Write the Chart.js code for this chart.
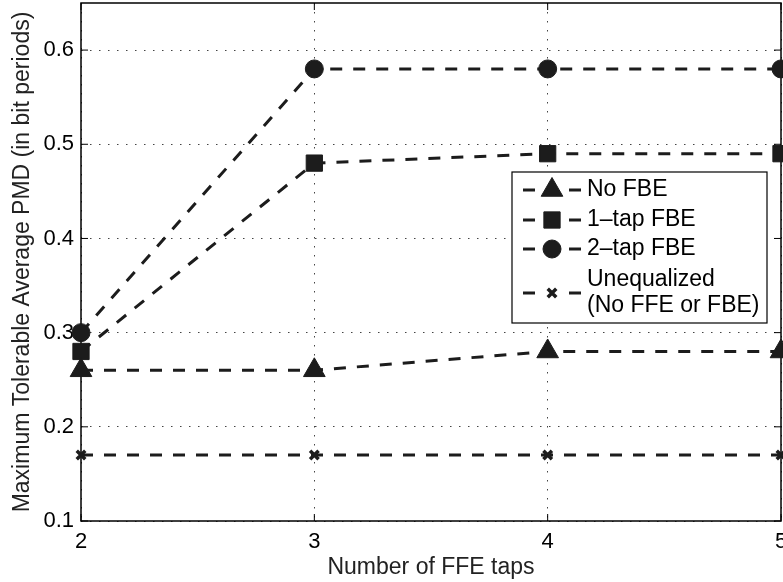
<!DOCTYPE html>
<html lang="en">
<head>
  <meta charset="UTF-8" />
  <title>Maximum Tolerable Average PMD vs FFE taps</title>
  <script src="https://cdn.jsdelivr.net/npm/chart.js@4"></script>
  <style>
    html, body { margin: 0; padding: 0; background: #fff; }
    #wrap { width: 783px; height: 582px; }
  </style>
</head>
<body>
  <div id="wrap">
    <canvas id="chartPmd" width="783" height="582"></canvas>
  </div>

  <script>
    // data
    const ffeTaps = [2, 3, 4, 5];
    const noFbe = [0.26, 0.26, 0.28, 0.28];
    const oneTapFbe = [0.28, 0.48, 0.49, 0.49];
    const twoTapFbe = [0.30, 0.58, 0.58, 0.58];
    const unequalized = [0.17, 0.17, 0.17, 0.17];
    const yTicks = [0.1, 0.2, 0.3, 0.4, 0.5, 0.6];
    const xTicks = [2, 3, 4, 5];
    const legendLabels = [['No FBE'], ['1\u2013tap FBE'], ['2\u2013tap FBE'], ['Unequalized', '(No FFE or FBE)']];

    const lineColor = '#1c1c1c';
    const fontFam = '"Liberation Sans", Arial, Helvetica, sans-serif';
    const fontSize = 22;
    const titleSize = 23;

    function serie(data, style, radius, bw) {
      return {
        data: ffeTaps.map((x, i) => ({ x: x, y: data[i] })),
        borderColor: lineColor,
        backgroundColor: lineColor,
        borderWidth: 3,
        borderDash: [12, 11],
        pointStyle: style,
        pointRadius: radius,
        pointBorderWidth: bw,
        pointBackgroundColor: lineColor,
        pointBorderColor: lineColor,
        fill: false,
        tension: 0,
        clip: false
      };
    }

    const datasets = [
      serie(noFbe, 'triangle', 12.5, 1),
      serie(oneTapFbe, 'rect', 11.5, 1),
      serie(twoTapFbe, 'circle', 9, 1),
      serie(unequalized, 'crossRot', 6, 3.5)
    ];

    // box + inward tick marks (matlab style)
    const axesBox = {
      id: 'axesBox',
      beforeDatasetsDraw(chart) {
        const ctx = chart.ctx;
        const a = chart.chartArea;
        const xs = chart.scales.x, ys = chart.scales.y;
        ctx.save();
        ctx.strokeStyle = '#000';
        ctx.lineWidth = 1.5;
        ctx.setLineDash([]);
        ctx.strokeRect(a.left, a.top, a.right - a.left, a.bottom - a.top);
        ctx.lineWidth = 1;
        ctx.beginPath();
        yTicks.forEach(v => {
          const y = ys.getPixelForValue(v);
          ctx.moveTo(a.left, y); ctx.lineTo(a.left + 7, y);
          ctx.moveTo(a.right, y); ctx.lineTo(a.right - 7, y);
        });
        xTicks.forEach(v => {
          const x = xs.getPixelForValue(v);
          ctx.moveTo(x, a.bottom); ctx.lineTo(x, a.bottom - 7);
          ctx.moveTo(x, a.top); ctx.lineTo(x, a.top + 7);
        });
        ctx.stroke();
        ctx.restore();
      }
    };

    // legend drawn by hand because of the two-line label
    const boxLegend = {
      id: 'boxLegend',
      afterDraw(chart) {
        const ctx = chart.ctx;
        const bx = 512, by = 172, bw = 255, bh = 151;
        const rowsY = [190, 220, 249, 293];
        ctx.save();
        ctx.fillStyle = '#fff';
        ctx.fillRect(bx, by, bw, bh);
        ctx.strokeStyle = '#000';
        ctx.lineWidth = 1.2;
        ctx.strokeRect(bx, by, bw, bh);

        datasets.forEach((ds, i) => {
          const y = rowsY[i];
          ctx.strokeStyle = lineColor;
          ctx.fillStyle = lineColor;
          ctx.lineWidth = 3;
          ctx.setLineDash([]);
          ctx.beginPath();
          ctx.moveTo(523, y); ctx.lineTo(535, y);
          ctx.moveTo(569, y); ctx.lineTo(581, y);
          ctx.stroke();
          ctx.lineWidth = ds.pointBorderWidth;
          Chart.helpers.drawPoint(ctx, {
            pointStyle: ds.pointStyle,
            radius: ds.pointRadius,
            rotation: 0,
            borderWidth: ds.pointBorderWidth
          }, 552, y);

          ctx.fillStyle = '#000';
          ctx.font = titleSize + 'px ' + fontFam;
          ctx.textBaseline = 'middle';
          ctx.textAlign = 'left';
          const lines = legendLabels[i];
          lines.forEach((t, k) => {
            const ty = y - (lines.length - 1) * 13 + k * 26;
            ctx.fillText(t, 587, ty);
          });
        });
        ctx.restore();
      }
    };

    new Chart(document.getElementById('chartPmd'), {
      type: 'line',
      data: { datasets: datasets },
      plugins: [axesBox, boxLegend],
      options: {
        responsive: false,
        animation: false,
        events: [],
        layout: { autoPadding: false, padding: { top: 3, right: 2, left: 0, bottom: 0 } },
        plugins: {
          legend: { display: false },
          tooltip: { enabled: false }
        },
        scales: {
          x: {
            type: 'linear',
            min: 2,
            max: 5,
            afterBuildTicks: s => { s.ticks = xTicks.map(v => ({ value: v })); },
            afterFit: s => { s.height = 61; s.paddingLeft = 0; s.paddingRight = 0; },
            ticks: {
              color: '#000',
              padding: 8,
              maxRotation: 0,
              autoSkip: false,
              font: { family: fontFam, size: fontSize },
              callback: v => String(v)
            },
            grid: { color: '#444', lineWidth: 1, drawTicks: false },
            border: { display: false, dash: [1.5, 7.5] },
            title: {
              display: true,
              text: 'Number of FFE taps',
              color: '#222',
              font: { family: fontFam, size: titleSize },
              padding: { top: 0, bottom: 1 }
            }
          },
          y: {
            type: 'linear',
            min: 0.1,
            max: 0.65,
            afterBuildTicks: s => { s.ticks = yTicks.map(v => ({ value: v })); },
            afterFit: s => { s.width = 81; s.paddingTop = 0; s.paddingBottom = 0; },
            ticks: {
              color: '#000',
              padding: 7,
              autoSkip: false,
              font: { family: fontFam, size: fontSize },
              callback: v => v.toFixed(1)
            },
            grid: { color: '#444', lineWidth: 1, drawTicks: false },
            border: { display: false, dash: [1.5, 7.5] },
            title: {
              display: true,
              text: 'Maximum Tolerable Average PMD (in bit periods)',
              color: '#222',
              font: { family: fontFam, size: titleSize },
              padding: { top: 9, bottom: 0 }
            }
          }
        }
      }
    });
  </script>
</body>
</html>
